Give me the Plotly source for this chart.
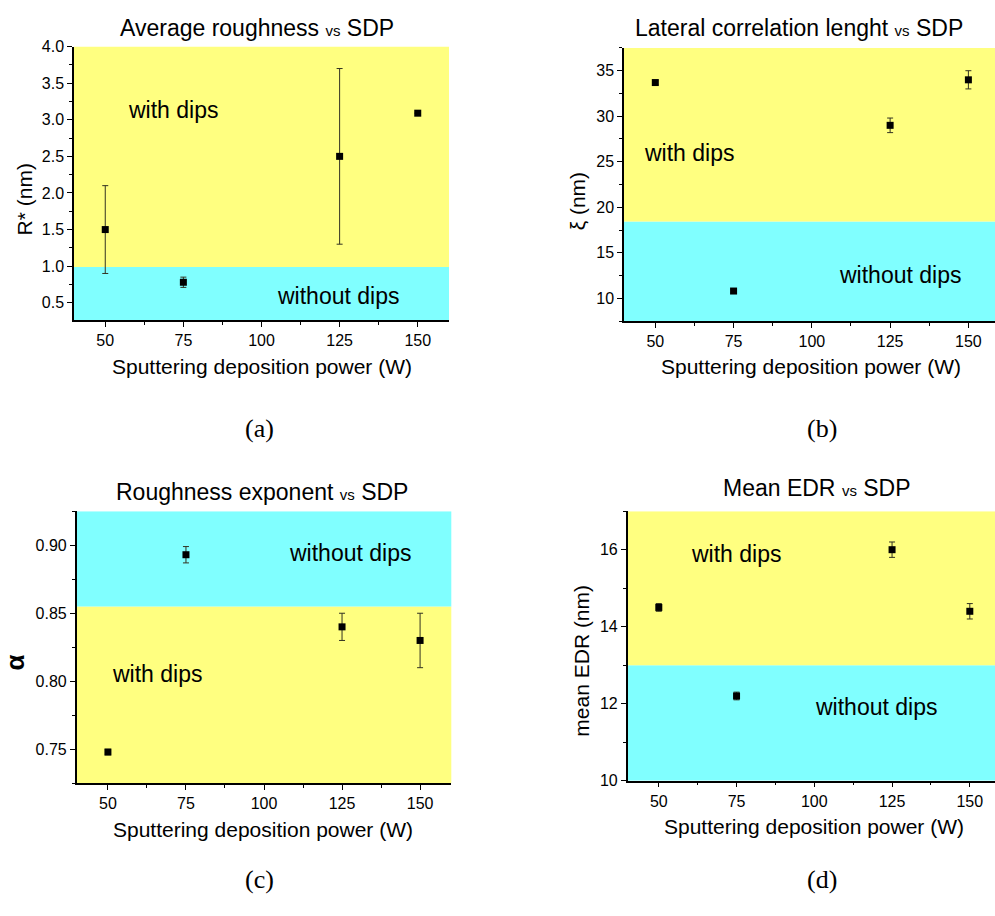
import plotly.graph_objects as go

# Sputtering deposition power (W)
power = [50, 75, 125, 150]

# (a) average roughness R* (nm)
rough = [1.5, 0.78, 2.5, 3.09]
rough_err = [0.6, 0.07, 1.2, 0.0]
rough_split = 0.99

# (b) lateral correlation length xi (nm)
corr = [33.7, 10.8, 29.0, 34.0]
corr_err = [0.2, 0.2, 0.8, 1.0]
corr_split = 18.45

# (c) roughness exponent alpha
alpha = [0.748, 0.893, 0.84, 0.83]
alpha_err = [0.002, 0.006, 0.01, 0.02]
alpha_split = 0.855

# (d) mean EDR (nm)
edr = [14.5, 12.2, 16.0, 14.4]
edr_err = [0.1, 0.1, 0.2, 0.2]
edr_split = 13.0

YELLOW = "#FFFF80"
CYAN = "#80FFFF"
W, H = 995, 916
FONT = "Liberation Sans, Arial, sans-serif"


def px(x):
    return x / W


def py(y):
    return 1 - y / H


panels = [
    dict(n=1, y=rough, e=rough_err, split=rough_split, below=CYAN, above=YELLOW,
         xdom=[px(74), px(449)], ydom=[py(318), py(39.3)],
         xr=[40, 160], yr=[0.263, 4.0], dtick=0.5, fmt=".1f",
         title="Average roughness", tpos=(257, 20),
         ytitle="R* (nm)", ytpos=(24, 195), xtpos=(262, 365),
         label="(a)", lpos=(259, 428),
         notes=[("with dips", 71.7, 3.13), ("without dips", 124.5, 0.59)]),
    dict(n=2, y=corr, e=corr_err, split=corr_split, below=CYAN, above=YELLOW,
         xdom=[px(624), 1.0], ydom=[py(319), py(40.7)],
         xr=[40, 158.5], yr=[7.5, 37.5], dtick=5, fmt="d",
         title="Lateral correlation lenght", tpos=(799, 20),
         ytitle="ξ (nm)", ytpos=(577, 197), xtpos=(811, 365),
         label="(b)", lpos=(822, 428),
         notes=[("with dips", 60.9, 26.0), ("without dips", 128.3, 12.55)]),
    dict(n=3, y=alpha, e=alpha_err, split=alpha_split, below=YELLOW, above=CYAN,
         xdom=[px(76.7), px(451.3)], ydom=[py(790), py(512.7)],
         xr=[40, 160], yr=[0.725, 0.925], dtick=0.05, fmt=".2f",
         title="Roughness exponent", tpos=(262, 493),
         ytitle="<b>α</b>", ytpos=(15, 667), xtpos=(263, 837),
         label="(c)", lpos=(259, 888),
         notes=[("without dips", 127.4, 0.894), ("with dips", 65.7, 0.805)]),
    dict(n=4, y=edr, e=edr_err, split=edr_split, below=CYAN, above=YELLOW,
         xdom=[px(627.7), 1.0], ydom=[py(787.3), py(512.7)],
         xr=[40, 158.1], yr=[10, 17], dtick=2, fmt="d",
         title="Mean EDR", tpos=(817, 489),
         ytitle="mean EDR (nm)", ytpos=(582, 665), xtpos=(814, 834),
         label="(d)", lpos=(822, 888),
         notes=[("with dips", 74.7, 15.9), ("without dips", 119.7, 11.92)]),
]


def ax_id(letter, n):
    return letter if n == 1 else f"{letter}{n}"


def label(text, x, y, size, family=FONT, angle=0, xref="paper", yref="paper"):
    return dict(text=text, x=x, y=y, xref=xref, yref=yref, showarrow=False,
                xanchor="center", yanchor="middle", textangle=angle,
                font=dict(size=size, family=family, color="black"))


fig = go.Figure()
layout = dict(
    width=W, height=H, margin=dict(l=0, r=0, t=0, b=0),
    paper_bgcolor="white", plot_bgcolor="rgba(0,0,0,0)",
    showlegend=False, font=dict(family=FONT, color="black"),
)
shapes = []
annotations = []
x_major = [50, 75, 100, 125, 150]
x_minor = [62.5, 87.5, 112.5, 137.5]

for p in panels:
    n = p["n"]
    xa, ya = ax_id("x", n), ax_id("y", n)
    fig.add_trace(go.Scatter(
        x=power, y=p["y"], xaxis=xa, yaxis=ya, mode="markers",
        marker=dict(symbol="square", size=7, color="black"),
        error_y=dict(type="data", array=p["e"], visible=True,
                     color="#333322", thickness=1, width=3),
        cliponaxis=False,
    ))
    axis_common = dict(showline=True, linecolor="black", linewidth=1.5,
                       showgrid=False, zeroline=False)
    layout[f"xaxis{n}"] = dict(
        domain=p["xdom"], anchor=ya, range=p["xr"], tickmode="array",
        tickvals=x_major, ticks="outside", ticklen=5,
        tickwidth=1, tickcolor="black",
        minor=dict(tickvals=x_minor, ticks="outside",
                   ticklen=3, tickcolor="black"),
        tickfont=dict(size=16, family=FONT), **axis_common)
    layout[f"yaxis{n}"] = dict(
        domain=p["ydom"], anchor=xa, range=p["yr"], tick0=0, dtick=p["dtick"],
        ticks="outside", ticklen=5, tickwidth=1, tickcolor="black",
        tickformat=p["fmt"],
        minor=dict(dtick=p["dtick"] / 2, ticks="outside", ticklen=3,
                   tickcolor="black"),
        tickfont=dict(size=16, family=FONT), **axis_common)
    # mirrored frame: top and right sides with inward ticks
    layout[f"xaxis{n + 4}"] = dict(
        overlaying=xa, anchor=ya, side="top", range=p["xr"], tickmode="array",
        tickvals=x_major, ticks="inside", ticklen=5,
        tickwidth=1, tickcolor="black", showticklabels=False,
        minor=dict(tickvals=x_minor, ticks="inside",
                   ticklen=3, tickcolor="black"),
        **axis_common)
    layout[f"yaxis{n + 4}"] = dict(
        overlaying=ya, anchor=xa, side="right", range=p["yr"], tick0=0,
        dtick=p["dtick"], ticks="inside", ticklen=5, tickwidth=1,
        tickcolor="black", showticklabels=False,
        minor=dict(dtick=p["dtick"] / 2, ticks="inside", ticklen=3,
                   tickcolor="black"),
        **axis_common)

    # coloured regions
    shapes.append(dict(type="rect", xref=f"{xa} domain", yref=ya, x0=0, x1=1,
                       y0=p["yr"][0], y1=p["split"], fillcolor=p["below"],
                       line=dict(width=0), layer="below"))
    shapes.append(dict(type="rect", xref=f"{xa} domain", yref=ya, x0=0, x1=1,
                       y0=p["split"], y1=p["yr"][1], fillcolor=p["above"],
                       line=dict(width=0), layer="below"))

    for text, nx, ny in p["notes"]:
        annotations.append(label(text, nx, ny, 23, xref=xa, yref=ya))

    tx, ty = p["tpos"]
    annotations.append(label(
        p["title"] + ' <span style="font-size:15px">vs</span> SDP',
        px(tx), py(ty), 23))
    yx, yy = p["ytpos"]
    annotations.append(label(p["ytitle"], px(yx), py(yy),
                             21 if n != 3 else 26, angle=-90))
    xx, xy = p["xtpos"]
    annotations.append(label("Sputtering deposition power (W)",
                             px(xx), py(xy), 21))
    lx, ly = p["lpos"]
    annotations.append(label(p["label"], px(lx), py(ly), 26,
                             family="Liberation Serif, Times New Roman, serif"))

layout["shapes"] = shapes
layout["annotations"] = annotations
fig.update_layout(**layout)
fig.write_html("out.html")
